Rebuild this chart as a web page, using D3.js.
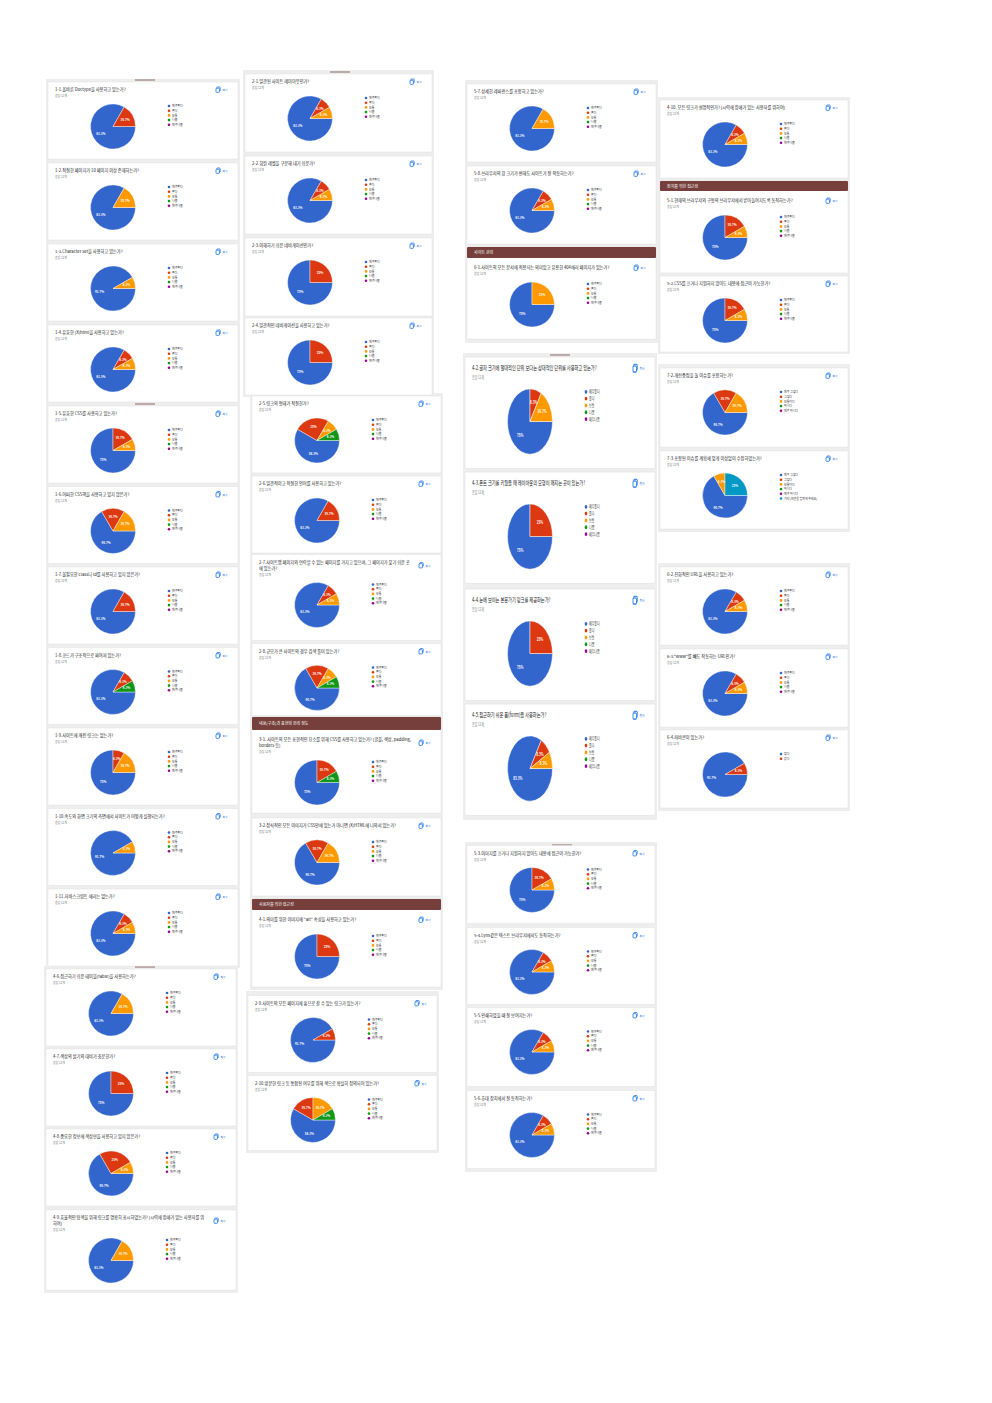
<!DOCTYPE html>
<html><head><meta charset="utf-8">
<script src="https://cdn.jsdelivr.net/npm/d3@7/dist/d3.min.js"></script>
<style>body{margin:0;background:#fff}svg{display:block}text{font-family:"Noto Sans CJK KR","Noto Sans",sans-serif}</style>
</head><body><svg id="c" width="992" height="1403"></svg>
<script>
// ---------- DATA ----------
const ratingLabels = ["매우좋다","좋다","보통","나쁨","매우나쁨"];
const agreeLabels = ["매우 그렇다","그렇다","보통이다","아니다","매우 아니다"];
const agreeEtcLabels = ["매우 그렇다","그렇다","보통이다","아니다","매우 아니다","기타 (의견을 입력해 주세요)"];
const faviconLabels = ["있다","없다"];
const sectionTitles = ["장치를 위한 접근성","사이트 관리","내용(구조)과 표현의 분리 정도","사용자를 위한 접근성"];
const responseNote = "응답 12개";

const titles = [
 "1-1.올바른 Doctype을 사용하고 있는가?",
 "1-2.적절한 페이지가 10 페이지 이상 존재하는가?",
 "1-3.Character set을 사용하고 있는가?",
 "1-4.유효한 (X)html을 사용하고 있는가?",
 "1-5.유효한 CSS를 사용하고 있는가?",
 "1-6.어떠한 CSS핵을 사용하고 있지 않은가?",
 "1-7.불필요한 class나 id를 사용하고 있지 않은가?",
 "1-8.코드가 구조적으로 짜여져 있는가?",
 "1-9.사이트에 깨진 링크는 없는가?",
 "1-10.속도와 화면 크기의 측면에서 사이트가 어떻게 실행되는가?",
 "1-11.자바스크립트 에러는 없는가?",
 "4-6.접근하기 쉬운 테이블(table)을 사용하는가?",
 "4-7.색상의 밝기와 대비가 충분한가?",
 "4-8.중요한 정보에 색상만을 사용하고 있지 않은가?",
 "4-9.효율적인 탐색을 위해 링크를 명확히 표시하였는가? (시력에 장애가 있는 사용자를 위\n하여)",
 "2-1.일관된 사이트 레이아웃인가?",
 "2-2.회원 레벨을 구분해 내기 쉬운가?",
 "2-3.이해하기 쉬운 네비게이션인가?",
 "2-4.일관적인 네비게이션을 사용하고 있는가?",
 "2-5.링크의 형태가 적절한가?",
 "2-6.일관적이고 적절한 언어를 사용하고 있는가?",
 "2-7.사이트맵 페이지와 연락할 수 있는 페이지를 가지고 있으며, 그 페이지가 찾기 쉬운 곳\n에 있는가?",
 "2-8.규모가 큰 사이트의 경우 검색 툴이 있는가?",
 "3-1. 사이트의 모든 표현적인 요소를 위해 CSS를 사용하고 있는가? (글꼴, 색상, padding,\nborders 등)",
 "3-2.장식적인 모든 이미지가 CSS안에 있는가 아니면 (X)HTML에 나와서 있는가?",
 "4-1.의미를 위한 이미지에 \"alt\" 속성을 사용하고 있는가?",
 "2-9.사이트의 모든 페이지에 홈으로 갈 수 있는 링크가 있는가?",
 "2-10.방문한 링크 등 통합된 여부를 위해 색으로 확실히 정의되어 있는가?",
 "5-7.상세한 레퍼런스를 포함하고 있는가?",
 "5-8.브라우저의 창 크기가 변해도 사이트가 잘 작동하는가?",
 "6-1.사이트의 모든 문서에 적용되는 의미있고 유용한 404에러 페이지가 있는가?",
 "4-2.글자 크기에 절대적인 단위 보다는 상대적인 단위를 사용하고 있는가?",
 "4-3.폰트 크기를 키웠을 때 레이아웃의 모형이 깨지는 곳이 있는가?",
 "4-4.눈에 보이는 본문가기 링크를 제공하는가?",
 "4-5.접근하기 쉬운 폼(form)을 사용하는가?",
 "5-3.이미지를 끄거나 지원하지 않아도 내용에 접근이 가능한가?",
 "5-4.Lynx같은 텍스트 브라우저에서도 동작하는가?",
 "5-5.인쇄하였을 때 잘 보여지는가?",
 "5-6.휴대 장치에서 잘 동작하는가?",
 "4-10.    모든 링크가 설명적인가? (시력에 장애가 있는 사용자를 위하여)",
 "5-1.현재의 브라우저와 구형의 브라우저에서 받아들여지도록 동작하는가?",
 "5-2.CSS를 끄거나 지원하지 않아도 내용에 접근이 가능한가?",
 "7-2.개선중점을 둘 이슈를 포함하는가?",
 "7-3.포함된 이슈를 계획에 맞게 이상없이 수정하였는가?",
 "6-2.친화적인 URL을 사용하고 있는가?",
 "6-3.\"www\"를 빼도 작동하는 URL인가?",
 "6-4.파비콘이 있는가?"
];
// percentages in legend order
const values = [
 [83.3,16.7,0,0,0],[83.3,0,16.7,0,0],[91.7,0,8.3,0,0],[83.3,8.3,8.3,0,0],
 [75,16.7,8.3,0,0],[66.7,16.7,16.7,0,0],[83.3,16.7,0,0,0],[83.3,8.3,0,8.3,0],
 [75,8.3,16.7,0,0],[91.7,0,8.3,0,0],[83.3,8.3,8.3,0,0],
 [83.3,0,16.7,0,0],[75,25,0,0,0],[66.7,25,8.3,0,0],[83.3,0,16.7,0,0],
 [83.3,8.3,8.3,0,0],[83.3,8.3,8.3,0,0],[75,25,0,0,0],[75,25,0,0,0],
 [58.3,25,8.3,8.3,0],[83.3,16.7,0,0,0],[83.3,8.3,8.3,0,0],[66.7,16.7,8.3,8.3,0],
 [75,16.7,0,8.3,0],[66.7,16.7,16.7,0,0],[75,25,0,0,0],
 [91.7,8.3,0,0,0],[58.3,16.7,16.7,8.3,0],
 [83.3,0,16.7,0,0],[83.3,8.3,8.3,0,0],[75,0,25,0,0],
 [75,8.3,16.7,0,0],[75,25,0,0,0],[75,25,0,0,0],[83.3,8.3,8.3,0,0],
 [75,16.7,8.3,0,0],[83.3,8.3,8.3,0,0],[83.3,8.3,8.3,0,0],[83.3,8.3,8.3,0,0],
 [83.3,8.3,8.3,0,0],[75,16.7,8.3,0,0],[75,16.7,8.3,0,0],
 [66.7,16.7,16.7,0,0],[66.7,0,8.3,0,0,25],
 [83.3,8.3,8.3,0,0],[83.3,8.3,8.3,0,0],[91.7,8.3]
];
const legendSets = {rating:ratingLabels, agree:agreeLabels, agreeEtc:agreeEtcLabels, fav:faviconLabels};
const legendKeys = titles.map((t,i)=> i===42?"agree": i===43?"agreeEtc": i===46?"fav":"rating");

// ---------- LAYOUT (positions only) ----------
const L = (x,y,w,h,o={}) => Object.assign({x,y,w,h,sy:1,sec:-1,hh:11},o);
const layout = [
 L(48,82,190,77),L(48,163,190,77),L(48,244,190,77),L(48,325,190,77),
 L(48,406,190,77),L(48,486.5,190,77),L(48,567,190,77),L(48,647.5,190,77),L(48,728,190,77),L(48,808.5,190,77),L(48,889,190,77),
 L(46,969,190,77),L(46,1049,190,77),L(46,1129,190,77),L(46,1210,190,80),
 L(245,74,187,78),L(245,156,187,78),L(245,238,187,78),L(245,318,187,77),
 L(252,396,189,77),L(252,476,189,77),L(252,554.5,189,86),L(252,643.5,189,72),
 L(252,717,189,96,{sec:2,hh:13}),L(252,818,189,78),L(252,899,189,88,{sec:3}),
 L(248,995.5,189,77),L(248,1075.5,189,75),
 L(467,84,189,78),L(467,166,189,78),L(467,247,189,92,{sec:1}),
 L(465,357,190,77,{sy:1.45}),L(465,472,190,77,{sy:1.45}),L(465,589,190,77,{sy:1.45}),L(465,704,190,77,{sy:1.45}),
 L(467,845.5,188,78),L(467,927.5,188,77),L(467,1007.5,188,79),L(467,1090.5,188,78),
 L(660,100,188,78),L(660,181,188,92,{sec:0,hh:10}),L(660,276,188,76),
 L(660,368,188,79),L(660,451,188,78),
 L(660,567,188,78),L(660,649,188,78),L(660,730,188,78)
];
const groups = [
 [46,79,194,325],[46,404,194,564],[44,966,194,327],
 [243,70,191,327],[250,393,193,597],[246,991,193,162],
 [465,80,193,263],[463,353,194,467],[465,842,192,330],
 [658,97,192,257],[658,364,192,168],[658,563,192,248]
];
const markers = [[135,80,20],[330,72,20],[135,404,20],[135,967,20],[330,393,40],[550,355,20],[552,845,20]];

// ---------- DRAW ----------
const colors = ["#3366cc","#dc3912","#ff9900","#109618","#990099","#0099c6"];
const svg = d3.select("#c");
svg.append("g").selectAll("rect").data(groups).join("rect")
  .attr("x",d=>d[0]).attr("y",d=>d[1]).attr("width",d=>d[2]).attr("height",d=>d[3]).attr("fill","#eeeeee");
svg.append("g").selectAll("rect").data(markers).join("rect")
  .attr("x",d=>d[0]).attr("y",d=>d[1]-0.6).attr("width",d=>d[2]).attr("height",1.2).attr("fill","#a07c7c");

const pie = d3.pie().sort(null).value(d=>d.v).startAngle(Math.PI/2).endAngle(Math.PI/2+2*Math.PI);
const R = 22.5;
const arc = d3.arc().innerRadius(0).outerRadius(R);
const labelArc = d3.arc().innerRadius(R*0.62).outerRadius(R*0.62);
const fmt = v => (Math.round(v*10)/10).toString().replace(/\.0$/,"") + "%";

layout.forEach((p,i)=>{
  const g = svg.append("g").attr("transform",`translate(${p.x},${p.y}) scale(1,${p.sy})`);
  g.append("rect").attr("width",p.w).attr("height",p.h).attr("fill","#fff").attr("stroke","#dddddd").attr("stroke-width",0.4);
  let dy = 0;
  if (p.sec>=0){
    g.append("rect").attr("x",0).attr("y",0).attr("width",p.w).attr("height",p.hh).attr("fill","#763f3b").attr("rx",1);
    g.append("text").attr("x",7).attr("y",p.hh/2+1.5).attr("font-size",4).attr("fill","#fff").text(sectionTitles[p.sec]);
    dy = p.hh + 2;
  }
  const lines = titles[i].split("\n");
  lines.forEach((ln,k)=> g.append("text").attr("x",7).attr("y",dy+9+k*6).attr("font-size",4.2).attr("fill","#202124").text(ln));
  const ex = (lines.length-1)*6;
  g.append("text").attr("x",7).attr("y",dy+15+ex).attr("font-size",2.9).attr("fill","#70757a").text(responseNote);
  // copy icon
  const ic = g.append("g").attr("transform",`translate(${p.w-22},${dy+5+ex/2})`);
  ic.append("rect").attr("x",0.8).attr("y",0).attr("width",3.4).attr("height",4.2).attr("rx",0.7).attr("fill","none").attr("stroke","#1a73e8").attr("stroke-width",0.8);
  ic.append("rect").attr("x",0).attr("y",1.2).attr("width",3.4).attr("height",4.2).attr("rx",0.7).attr("fill","#fff").attr("stroke","#1a73e8").attr("stroke-width",0.8);
  ic.append("text").attr("x",6.5).attr("y",4).attr("font-size",2.6).attr("fill","#1a73e8").text("복사");
  // pie
  const data = values[i].map((v,k)=>({v,k}));
  const pg = g.append("g").attr("transform",`translate(65,${dy+44.5+ex})`);
  const arcs = pie(data);
  pg.selectAll("path").data(arcs.filter(a=>a.data.v>0)).join("path")
    .attr("d",arc).attr("fill",a=>colors[a.data.k]).attr("stroke","#fff").attr("stroke-width",0.4);
  pg.selectAll("text").data(arcs.filter(a=>a.data.v>0)).join("text")
    .attr("transform",a=>`translate(${labelArc.centroid(a)})`)
    .attr("text-anchor","middle").attr("dy","0.35em").attr("font-size",3).attr("font-weight","bold")
    .attr("fill","#fff").text(a=>fmt(a.data.v));
  // legend
  const labs = legendSets[legendKeys[i]];
  const lg = g.append("g").attr("transform",`translate(121,${dy+24+ex})`);
  labs.forEach((lb,k)=>{
    lg.append("circle").attr("cx",0).attr("cy",k*4.7).attr("r",1.3).attr("fill",colors[k]);
    lg.append("text").attr("x",3).attr("y",k*4.7+1.1).attr("font-size",2.9).attr("fill","#333").text(lb);
  });
});
</script></body></html>
